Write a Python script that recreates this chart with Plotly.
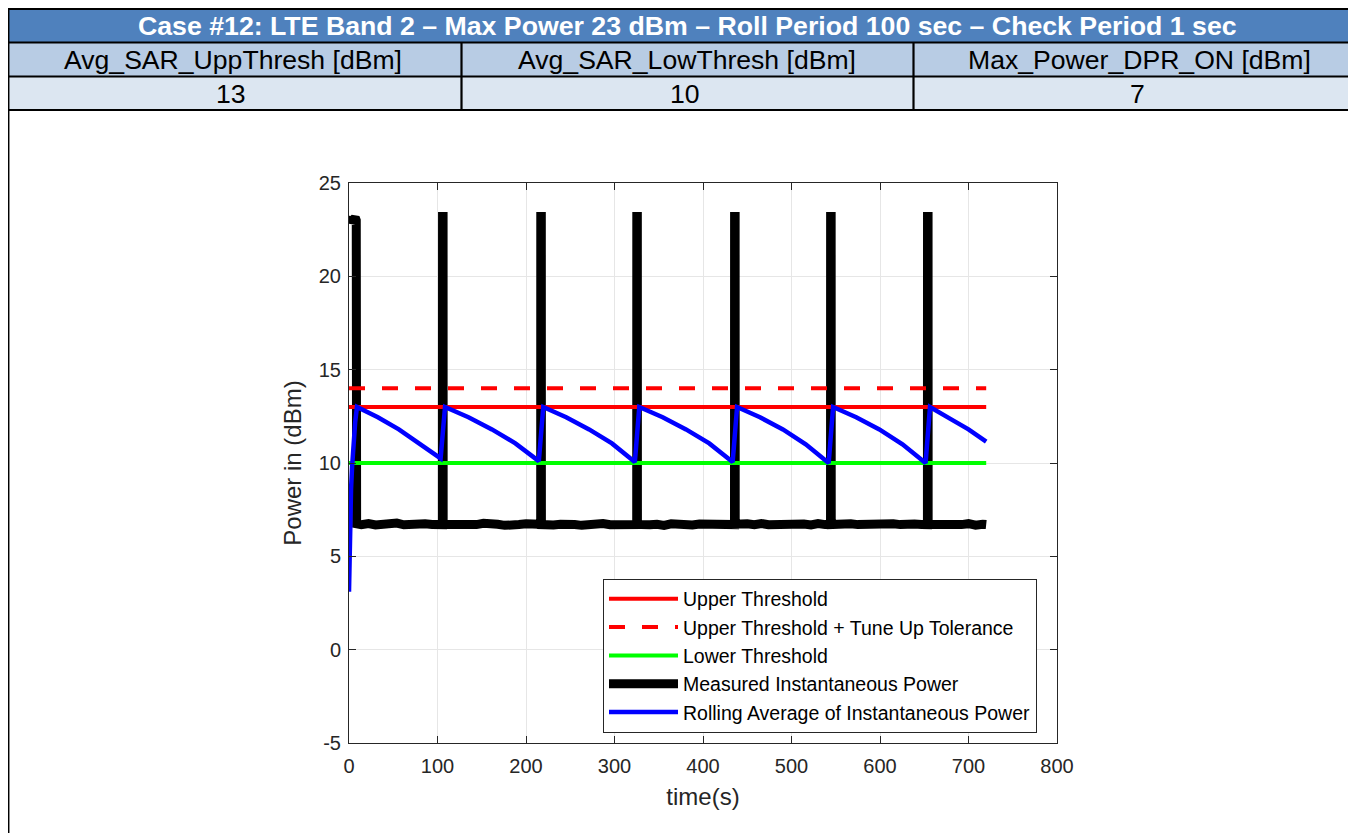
import plotly.graph_objects as go

# ---------------- data ----------------
header_title = "Case #12: LTE Band 2 \u2013 Max Power 23 dBm \u2013 Roll Period 100 sec \u2013 Check Period 1 sec"
param_names = ["Avg_SAR_UppThresh [dBm]", "Avg_SAR_LowThresh [dBm]", "Max_Power_DPR_ON [dBm]"]
param_values = ["13", "10", "7"]

threshold_t = [0, 720]
upper_threshold = [13, 13]
upper_plus_tol = [14, 14]
lower_threshold = [10, 10]

measured_t = [
    0, 1.5, 3, 5, 7, 8.2, 8.6,
    14, 22, 30, 38, 46, 54, 62, 70, 78, 86, 94, 102, 105.6,
    105.7, 106.3, 106.4,
    112, 120, 128, 136, 144, 152, 160, 168, 176, 184, 192, 200, 208, 216.6,
    216.7, 217.3, 217.4,
    223, 231, 239, 247, 255, 263, 271, 279, 287, 295, 303, 311, 319, 325.1,
    325.2, 325.8, 325.9,
    332, 340, 348, 356, 364, 372, 380, 388, 396, 404, 412, 420, 428, 435.6,
    435.7, 436.3, 436.4,
    442, 450, 458, 466, 474, 482, 490, 498, 506, 514, 522, 530, 538, 544.1,
    544.2, 544.8, 544.9,
    551, 559, 567, 575, 583, 591, 599, 607, 615, 623, 631, 639, 647, 653.6,
    653.7, 654.3, 654.4,
    660, 668, 676, 684, 692, 700, 708, 716, 720,
]
measured_p = [
    23.0, 23.15, 22.9, 23.1, 23.15, 23.0, 6.75,
    6.70, 6.76, 6.68, 6.74, 6.70, 6.78, 6.69, 6.73, 6.66, 6.75, 6.71, 6.74, 6.70,
    23.2, 23.2, 6.72,
    6.70, 6.75, 6.68, 6.73, 6.70, 6.77, 6.69, 6.72, 6.66, 6.74, 6.71, 6.75, 6.69, 6.72,
    23.2, 23.2, 6.70,
    6.74, 6.68, 6.72, 6.77, 6.70, 6.66, 6.73, 6.70, 6.76, 6.69, 6.72, 6.67, 6.74, 6.70,
    23.2, 23.2, 6.71,
    6.75, 6.69, 6.72, 6.66, 6.74, 6.70, 6.77, 6.68, 6.73, 6.70, 6.75, 6.67, 6.72, 6.70,
    23.2, 23.2, 6.72,
    6.68, 6.74, 6.70, 6.76, 6.69, 6.72, 6.66, 6.75, 6.71, 6.73, 6.68, 6.76, 6.70, 6.71,
    23.2, 23.2, 6.70,
    6.73, 6.67, 6.75, 6.70, 6.72, 6.68, 6.77, 6.69, 6.74, 6.70, 6.66, 6.73, 6.71, 6.70,
    23.2, 23.2, 6.72,
    6.70, 6.76, 6.68, 6.73, 6.70, 6.75, 6.67, 6.72, 6.70,
]

rolling_t = [
    0, 0.5, 1.0, 1.6, 2.3, 3.5, 5, 7, 9,
    32.6, 56.3, 79.9, 103.5, 108.5,
    135, 161.5, 188, 214.5, 219.5,
    245.4, 271.3, 297.1, 323, 328,
    354.4, 380.8, 407.1, 433.5, 438.5,
    464.4, 490.3, 516.1, 542, 547,
    573.1, 599.3, 625.4, 651.5, 656.5,
    680, 700, 720,
]
rolling_p = [
    3.1, 5.0, 5.3, 7.6, 8.6, 9.8, 11.0, 12.2, 13.0,
    12.45, 11.8, 11.05, 10.25, 13.0,
    12.45, 11.8, 11.05, 10.1, 13.0,
    12.45, 11.8, 11.05, 10.05, 13.0,
    12.45, 11.8, 11.05, 10.05, 13.0,
    12.45, 11.8, 11.0, 10.0, 13.0,
    12.45, 11.8, 11.0, 10.0, 13.0,
    12.35, 11.8, 11.15,
]

x_ticks = [0, 100, 200, 300, 400, 500, 600, 700, 800]
y_ticks = [-5, 0, 5, 10, 15, 20, 25]
y_tick_labels = ["-5", "0", "5", "10", "15", "20", "25"]

# ---------------- layout geometry ----------------
# the page places the figure 8 px from the window's top-left corner
OFF = 8
W, H = 1356 - OFF, 833 - OFF
# plot box in screen pixels
PL, PR, PT, PB = 349, 1057, 183, 743


def px(x):
    return (x - PL) / (PR - PL)


def py(y):
    return (PB - y) / (PB - PT)


FONT = "Liberation Sans, Arial, Helvetica, sans-serif"
AX = "#262626"

fig = go.Figure()

fig.add_trace(go.Scatter(x=measured_t, y=measured_p, mode="lines",
                         name="Measured Instantaneous Power",
                         line=dict(color="#000000", width=9), legendrank=4))
fig.add_trace(go.Scatter(x=threshold_t, y=upper_threshold, mode="lines",
                         name="Upper Threshold",
                         line=dict(color="#FF0000", width=4), legendrank=1))
fig.add_trace(go.Scatter(x=threshold_t, y=upper_plus_tol, mode="lines",
                         name="Upper Threshold + Tune Up Tolerance",
                         line=dict(color="#FF0000", width=4, dash="16px,17px"), legendrank=2))
fig.add_trace(go.Scatter(x=threshold_t, y=lower_threshold, mode="lines",
                         name="Lower Threshold",
                         line=dict(color="#00FF00", width=4), legendrank=3))
fig.add_trace(go.Scatter(x=rolling_t, y=rolling_p, mode="lines",
                         name="Rolling Average of Instantaneous Power",
                         line=dict(color="#0000FF", width=4.5), legendrank=5))

# ---------------- table on top ----------------
shapes = []
rows = [(9, 42, "#4F81BD"), (42, 77, "#B8CCE4"), (77, 110, "#DCE6F1")]
for y0, y1, col in rows:
    shapes.append(dict(type="rect", xref="paper", yref="paper",
                       x0=px(7), x1=px(1360), y0=py(y1), y1=py(y0),
                       fillcolor=col, line=dict(width=0), layer="below"))
for yl in [8.8, 42.5, 76.5, 110]:
    shapes.append(dict(type="line", xref="paper", yref="paper",
                       x0=px(6), x1=px(1360), y0=py(yl), y1=py(yl),
                       line=dict(color="#000000", width=2.2)))
for xl in [461.5, 913.5]:
    shapes.append(dict(type="line", xref="paper", yref="paper",
                       x0=px(xl), x1=px(xl), y0=py(42), y1=py(110),
                       line=dict(color="#000000", width=2.2)))
shapes.append(dict(type="line", xref="paper", yref="paper",
                   x0=px(8.2), x1=px(8.2), y0=py(8), y1=py(840),
                   line=dict(color="#000000", width=2.5)))

annotations = [dict(text="<b>" + header_title + "</b>", xref="paper", yref="paper",
                    x=px(687.5), y=py(25.5), xanchor="center", yanchor="middle",
                    showarrow=False, font=dict(family=FONT, size=26.7, color="#FFFFFF"))]
col_centers = [233, 687, 1139]
for cx, name, val in zip(col_centers, param_names, param_values):
    annotations.append(dict(text=name, xref="paper", yref="paper", x=px(cx), y=py(59.5),
                            xanchor="center", yanchor="middle", showarrow=False,
                            font=dict(family=FONT, size=26.6, color="#000000")))
    annotations.append(dict(text=val, xref="paper", yref="paper", x=px(cx - 2), y=py(93.5),
                            xanchor="center", yanchor="middle", showarrow=False,
                            font=dict(family=FONT, size=26.6, color="#000000")))

axis_common = dict(showline=True, linecolor=AX, linewidth=1, mirror="ticks",
                   ticks="inside", ticklen=7, tickcolor=AX, tickwidth=1,
                   showgrid=True, gridcolor="#E6E6E6", gridwidth=1, zeroline=False,
                   tickfont=dict(family=FONT, size=20, color=AX))

fig.update_layout(
    width=W, height=H, autosize=False,
    margin=dict(l=PL - OFF, r=W - (PR - OFF), t=PT - OFF, b=H - (PB - OFF), pad=0),
    paper_bgcolor="#FFFFFF", plot_bgcolor="#FFFFFF",
    font=dict(family=FONT, color=AX),
    shapes=shapes, annotations=annotations,
    showlegend=True,
    legend=dict(x=px(603), y=py(578.5), xanchor="left", yanchor="top",
                bgcolor="#FFFFFF", bordercolor="#262626", borderwidth=1,
                font=dict(family=FONT, size=19.5, color="#000000"),
                itemwidth=69, tracegroupgap=0),
    xaxis=dict(range=[0, 800], tickmode="array", tickvals=x_ticks,
               ticklabelstandoff=5,
               title=dict(text="time(s)", font=dict(family=FONT, size=24, color=AX), standoff=12),
               **axis_common),
    yaxis=dict(range=[-5, 25], tickmode="array", tickvals=y_ticks, ticktext=y_tick_labels,
               ticklabelstandoff=3,
               title=dict(text="Power in (dBm)", font=dict(family=FONT, size=24, color=AX), standoff=10),
               **axis_common),
)

fig.write_html("out.html")
